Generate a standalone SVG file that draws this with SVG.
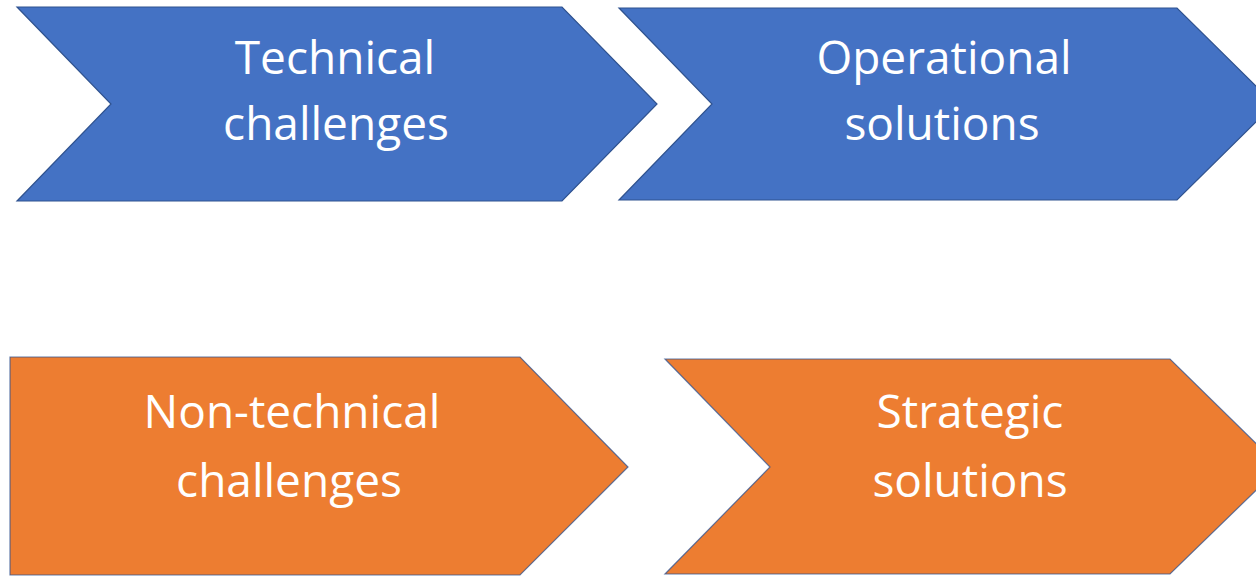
<svg xmlns="http://www.w3.org/2000/svg" width="1256" height="576" viewBox="0 0 1256 576">
<style>
.blue{fill:#4472C4;stroke:#2F528F;stroke-width:1.2}
.orange{fill:#ED7D31;stroke:#2F528F;stroke-width:1.2;stroke-opacity:0.75}
.lbl{font-family:"Open Sans","Liberation Sans",sans-serif;font-size:46px;fill:#ffffff;text-anchor:middle}
</style>
<rect width="1256" height="576" fill="#ffffff"/>
<g id="connectors"></g>
<g id="technical-challenges">
<polygon class="blue" points="17,7 562,7 657,104 562,201 17,201 111,104"/>
<text class="lbl" x="335" y="74">Technical</text>
<text class="lbl" x="336" y="140">challenges</text>
</g>
<g id="operational-solutions">
<polygon class="blue" points="619,8 1177,8 1274,104 1177,200 619,200 712,104"/>
<text class="lbl" x="944" y="74">Operational</text>
<text class="lbl" x="942" y="140">solutions</text>
</g>
<g id="non-technical-challenges">
<polygon class="orange" points="10,357 520,357 628,467 520,575 10,575"/>
<text class="lbl" x="292" y="428">Non-technical</text>
<text class="lbl" x="289" y="497">challenges</text>
</g>
<g id="strategic-solutions">
<polygon class="orange" points="665,359 1170,359 1280,467 1170,574 665,574 770,467"/>
<text class="lbl" x="970" y="428">Strategic</text>
<text class="lbl" x="970" y="497">solutions</text>
</g>
</svg>
